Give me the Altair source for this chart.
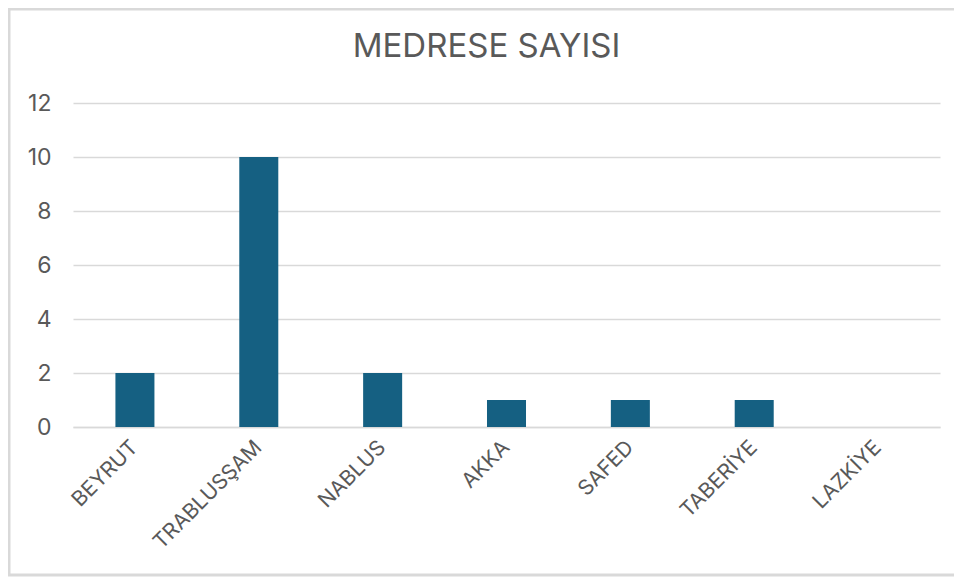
import altair as alt
import pandas as pd

categories = ["BEYRUT", "TRABLUSŞAM", "NABLUS", "AKKA", "SAFED", "TABERİYE", "LAZKİYE"]
values = [2, 10, 2, 1, 1, 1, 0]
y_ticks = [0, 2, 4, 6, 8, 10, 12]
title_text = "MEDRESE SAYISI"

df = pd.DataFrame({"city": categories, "count": values})

FONT = "Inter"
TXT = "#595959"
GRID = "#d9d9d9"
W, H = 867, 324

bars = alt.Chart(df).mark_bar(color="#156082").encode(
    x=alt.X("city:N", sort=categories, title=None,
            scale=alt.Scale(paddingInner=0.685, paddingOuter=0.3425),
            axis=alt.Axis(labelAngle=-45, labelFontSize=21, labelColor=TXT, labelFont=FONT,
                          labelAlign="right", labelBaseline="middle",
                          labelPadding=17, ticks=False, domainColor=GRID, domainWidth=1.5,
                          grid=False)),
    y=alt.Y("count:Q", title=None,
            scale=alt.Scale(domain=[0, 12], nice=False),
            axis=alt.Axis(values=y_ticks, labelFontSize=23, labelColor=TXT, labelFont=FONT,
                          labelPadding=22, ticks=False, domain=False,
                          gridColor=GRID, gridWidth=1.5)),
)

border = alt.Chart(alt.Data(values=[{"a": 1}])).mark_rect(
    fill=None, stroke=GRID, strokeWidth=3
).encode(
    x=alt.value(-64), x2=alt.value(W + 40),
    y=alt.value(-94), y2=alt.value(H + 148),
)

title = alt.Chart(alt.Data(values=[{"t": title_text}])).mark_text(
    fontSize=33, color=TXT, font=FONT, align="center", baseline="alphabetic"
).encode(
    text="t:N", x=alt.value(W / 2 - 20), y=alt.value(-46),
)

chart = alt.layer(border, title, bars).properties(
    width=W, height=H,
    padding={"left": 65, "top": 95, "right": 14, "bottom": 150},
    autosize="none",
).configure_view(stroke=None)

chart.save("out.html", embed_options={"renderer": "svg", "actions": False})
